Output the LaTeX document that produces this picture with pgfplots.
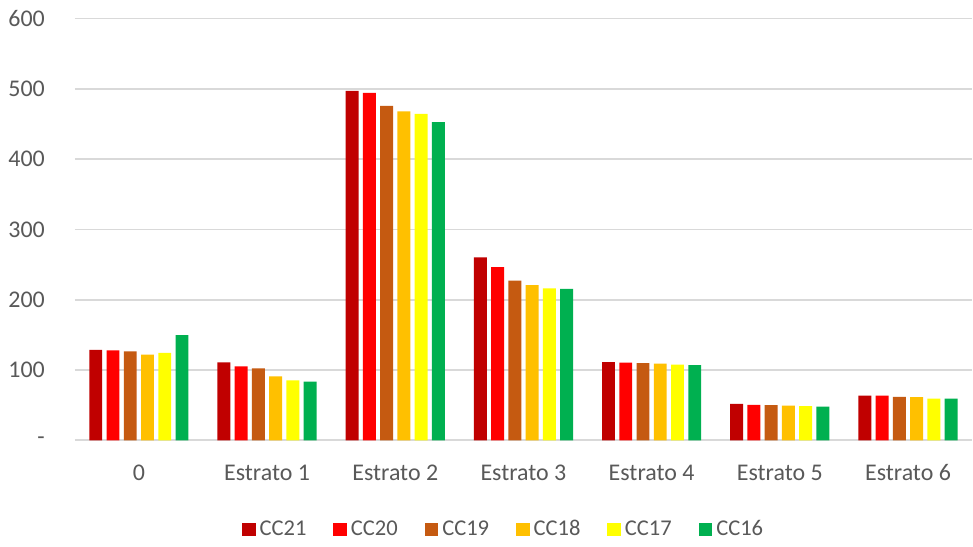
\documentclass[border=0pt]{standalone}
\usepackage{pgfplots}
\pgfplotsset{compat=1.18}
\usepackage{fontspec}
\setmainfont{Carlito}
\definecolor{c21}{HTML}{C00000}
\definecolor{c20}{HTML}{FF0000}
\definecolor{c19}{HTML}{C55A11}
\definecolor{c18}{HTML}{FFC000}
\definecolor{c17}{HTML}{FFFF00}
\definecolor{c16}{HTML}{00B050}
\definecolor{txt}{HTML}{595959}
\definecolor{gridc}{HTML}{D9D9D9}
\begin{document}
\begin{tikzpicture}
\fill[white] (-37.5pt,-48.7pt) rectangle (449pt,220.8pt);
\begin{axis}[
  scale only axis, width=450pt, height=211.5pt,
  at={(0,0)}, anchor=south west,
  ybar=2.15pt, bar width=6.5pt,
  xmin=-0.5, xmax=6.5, ymin=0, ymax=600,
  xtick={0,...,6},
  xticklabels={0,Estrato 1,Estrato 2,Estrato 3,Estrato 4,Estrato 5,Estrato 6},
  ytick={0,100,...,600},
  yticklabels={-,100,200,300,400,500,600},
  /pgf/number format/assume math mode=true,
  axis line style={draw=none},
  major tick length=0pt,
  ymajorgrids, grid style={gridc, line width=0.9pt},
  tick label style={font=\fontsize{12}{14}\selectfont, text=txt},
  xticklabel style={anchor=base, yshift=-20pt},
  yticklabel style={xshift=-11.5pt},
  legend style={at={(0.479,-0.211)}, anchor=center, draw=none, fill=none,
    legend columns=6, font=\fontsize{11.3}{13}\selectfont, text=txt,
    /tikz/every even column/.append style={column sep=11.5pt}},
  legend image code/.code={\fill[#1] (0pt,-3.4pt) rectangle (6.8pt,3.4pt);},
  legend cell align=left,
]
\addplot[fill=c21, draw=none] coordinates {(0,128.8) (1,110.9) (2,497.2) (3,260.3) (4,111.3) (5,51.8) (6,63.6)};
\addplot[fill=c20, draw=none] coordinates {(0,128.0) (1,105.2) (2,494.3) (3,246.5) (4,110.4) (5,50.4) (6,63.6)};
\addplot[fill=c19, draw=none] coordinates {(0,126.5) (1,102.4) (2,475.9) (3,227.2) (4,109.9) (5,49.9) (6,61.7)};
\addplot[fill=c18, draw=none] coordinates {(0,121.7) (1,91.0) (2,467.8) (3,220.6) (4,109.0) (5,49.4) (6,61.3)};
\addplot[fill=c17, draw=none] coordinates {(0,124.5) (1,85.4) (2,464.5) (3,216.3) (4,107.5) (5,48.5) (6,59.3)};
\addplot[fill=c16, draw=none] coordinates {(0,149.6) (1,83.4) (2,452.8) (3,215.3) (4,107.1) (5,48.0) (6,59.3)};
\legend{CC21,CC20,CC19,CC18,CC17,CC16}
\end{axis}
\end{tikzpicture}
\end{document}
